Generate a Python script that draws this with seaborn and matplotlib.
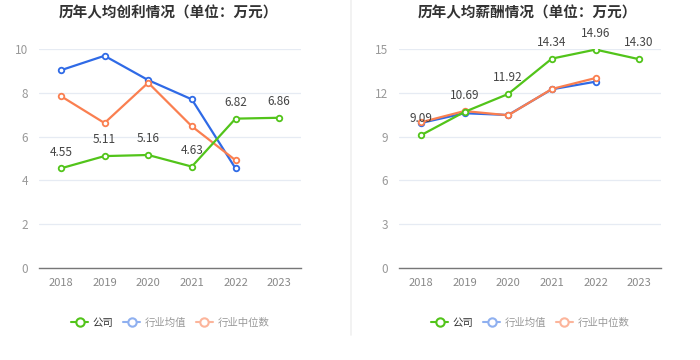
import matplotlib
matplotlib.use("Agg")
import matplotlib.pyplot as plt
import seaborn as sns
import pandas as pd
from matplotlib.lines import Line2D

sns.set_theme(style="white")
plt.rcParams['font.family'] = ['Noto Sans CJK SC', 'DejaVu Sans']

years = [2018, 2019, 2020, 2021, 2022, 2023]
series_names = ["公司", "行业均值", "行业中位数"]

profit_company = [4.55, 5.11, 5.16, 4.63, 6.82, 6.86]
profit_mean = [9.03, 9.69, 8.58, 7.70, 4.55]
profit_median = [7.85, 6.62, 8.46, 6.47, 4.92]

salary_company = [9.09, 10.69, 11.92, 14.34, 14.96, 14.30]
salary_mean = [9.93, 10.60, 10.48, 12.24, 12.76]
salary_median = [9.98, 10.75, 10.46, 12.26, 13.01]

titles = ["历年人均创利情况（单位：万元）", "历年人均薪酬情况（单位：万元）"]
yticks_left = [0, 2, 4, 6, 8, 10]
yticks_right = [0, 3, 6, 9, 12, 15]

colors = {"公司": "#52c41a", "行业均值": "#2f6ae6", "行业中位数": "#fa7f50"}
legend_colors = {"公司": "#52c41a", "行业均值": "#8fb0f0", "行业中位数": "#fcb59b"}
legend_text_colors = {"公司": "#333333", "行业均值": "#999999", "行业中位数": "#999999"}

fig = plt.figure(figsize=(7, 3.6), dpi=100)
axL = fig.add_axes([39/700, 92/360, 262/700, 219/360])
axR = fig.add_axes([399/700, 92/360, 262/700, 219/360])

fig.add_artist(Line2D([351/700, 351/700], [25/360, 1.0], color="#f0f0f0", lw=1.2, transform=fig.transFigure))

def draw(ax, comp, mean, med, yticks, ymax):
    for name, vals in [("行业均值", mean), ("行业中位数", med), ("公司", comp)]:
        df = pd.DataFrame({"year": years[:len(vals)], "v": vals})
        sns.lineplot(data=df, x="year", y="v", ax=ax, color=colors[name], lw=1.6,
                     marker="o", markersize=4, markerfacecolor="white",
                     markeredgecolor=colors[name], markeredgewidth=1.3, zorder=3)
    for x, v in zip(years, comp):
        ax.text(x, v + ymax * 0.045, f"{v:.2f}", ha="center", va="bottom", fontsize=8.5, color="#444444", zorder=5)
    ax.set_xlim(2017.5, 2023.5)
    ax.set_ylim(0, ymax)
    ax.set_yticks(yticks)
    ax.set_xticks(years)
    ax.set_xticklabels([str(y) for y in years])
    ax.set_xlabel("")
    ax.set_ylabel("")
    ax.grid(axis="y", color="#e6ebf3", lw=0.9)
    ax.grid(axis="x", visible=False)
    for s in ["top", "right", "left"]:
        ax.spines[s].set_visible(False)
    ax.spines["bottom"].set_color("#777777")
    ax.spines["bottom"].set_linewidth(1.0)
    ax.tick_params(axis="y", length=0, labelsize=8.5, colors="#999999", pad=8)
    ax.tick_params(axis="x", length=4, width=0.8, color="#777777", labelsize=8, labelcolor="#888888", pad=3, direction="out")
    handles = [Line2D([0], [0], color=legend_colors[n], lw=1.5, marker="o", markersize=6,
                      markerfacecolor="white", markeredgecolor=legend_colors[n], markeredgewidth=1.5)
               for n in series_names]
    leg = ax.legend(handles, series_names, loc="center", bbox_to_anchor=(0.5, (360 - 323 - 92) / 219),
                    ncol=3, frameon=False, fontsize=7.5, handlelength=1.7, columnspacing=0.9,
                    handletextpad=0.4)
    for t, n in zip(leg.get_texts(), series_names):
        t.set_color(legend_text_colors[n])

draw(axL, profit_company, profit_mean, profit_median, yticks_left, 10)
draw(axR, salary_company, salary_mean, salary_median, yticks_right, 15)

fig.text(168/700, 1 - 12/360, titles[0], ha="center", va="center", fontsize=10.5, fontweight="bold", color="#333333")
fig.text(527/700, 1 - 12/360, titles[1], ha="center", va="center", fontsize=10.5, fontweight="bold", color="#333333")

fig.savefig("out.png", dpi=100)
